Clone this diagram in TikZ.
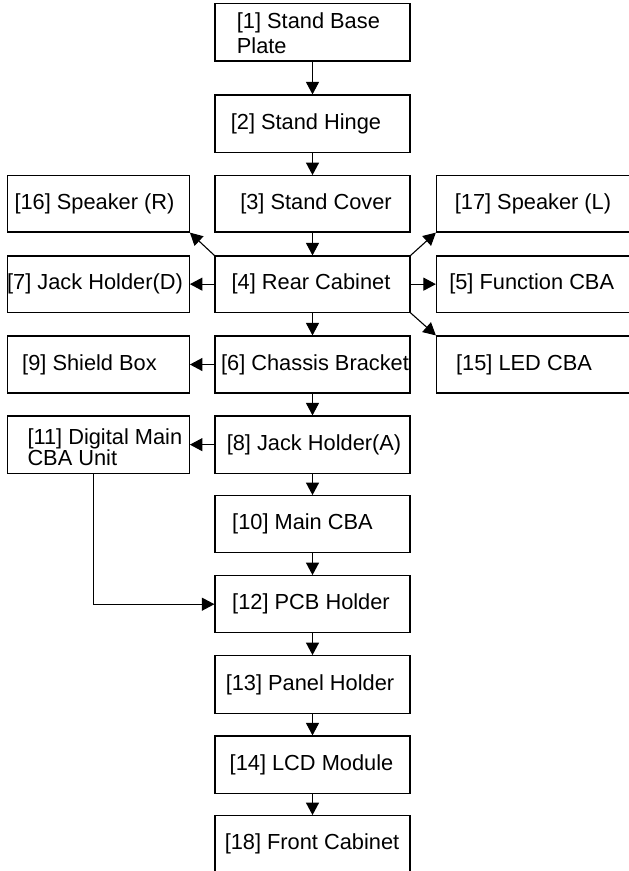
\documentclass[tikz,border=0pt]{standalone}
\usepackage{fontspec}
\setmainfont{Liberation Sans}
\usetikzlibrary{arrows.meta}
\newcommand{\bx}[7]{%
  \node[box, minimum width={(#4-#2)*1pt}, minimum height={(#5-#3)*1pt}] (#1) at ({(#2+#4)/2},{-(#3+#5)/2}) {};
  \node[lbl] (#1t) at (#6,{-(#3+#5)/2}) {#7};}
\begin{document}
\begin{tikzpicture}[x=1pt,y=1pt,
  box/.style={draw=black, line width=1.2pt, inner sep=0pt},
  lbl/.style={inner sep=0pt, font=\fontsize{21.8}{24}\selectfont},
  arr/.style={draw=black, line width=1.1pt, -{Triangle[length=12.5pt,width=13pt]}}]
\useasboundingbox (0,0) rectangle (629,-871);
\clip (0,0) rectangle (629,-871);
% centre column
\bx{b1}{215}{3.3}{410}{61}{312}{}
\node[lbl, anchor=west, align=left, font=\fontsize{21.8}{24.5}\selectfont] (b1t) at (236.7,-33.3) {[1] Stand Base\\Plate};
\bx{b2}{215}{95}{410}{152.3}{306}{[2] Stand Hinge}
\bx{b3}{215}{175.7}{410}{232}{316}{[3] Stand Cover}
\bx{b4}{215}{256}{410}{312.3}{311}{[4] Rear Cabinet}
\bx{b6}{215}{336}{410}{393}{315}{[6] Chassis Bracket}
\bx{b8}{215}{416}{410}{473.3}{314}{[8] Jack Holder(A)}
\bx{b10}{215}{495.7}{410}{552.7}{302.5}{[10] Main CBA}
\bx{b12}{215}{575.7}{410}{632.7}{311}{[12] PCB Holder}
\bx{b13}{215}{655.7}{410}{713.3}{310}{[13] Panel Holder}
\bx{b14}{215}{736}{410}{793.3}{311.5}{[14] LCD Module}
\bx{b18}{215}{815.7}{410}{873}{312}{[18] Front Cabinet}
% left column
\bx{b16}{7.3}{175.7}{189.3}{232}{94.5}{[16] Speaker (R)}
\bx{b7}{7.3}{256}{189.3}{312.3}{95}{[7] Jack Holder(D)}
\bx{b9}{7.3}{336}{189.3}{393}{89.5}{[9] Shield Box}
\bx{b11}{7.3}{416}{189.3}{473.3}{98}{}
\node[lbl, anchor=west, align=left, font=\fontsize{21.8}{20.7}\selectfont] (b11t) at (27.3,-447.5) {[11] Digital Main\\CBA Unit};
% right column
\bx{b17}{436.5}{175.7}{631}{232}{533}{[17] Speaker (L)}
\bx{b5}{436.5}{256}{631}{312.3}{531.7}{[5] Function CBA}
\bx{b15}{436.5}{336}{631}{393}{524}{[15] LED CBA}
% connectors
\draw[arr] (b1) -- (b2);
\draw[arr] (b2) -- (b3);
\draw[arr] (b3) -- (b4);
\draw[arr] (b4) -- (b6);
\draw[arr] (b6) -- (b8);
\draw[arr] (b8) -- (b10);
\draw[arr] (b10) -- (b12);
\draw[arr] (b12) -- (b13);
\draw[arr] (b13) -- (b14);
\draw[arr] (b14) -- (b18);
\draw[arr] (b4) -- (b7);
\draw[arr] (b4) -- (b5);
\draw[arr] (b6) -- (b9);
\draw[arr] (b8) -- (b11);
\draw[arr] (b4.north west) -- (b16.south east);
\draw[arr] (b4.north east) -- (b17.south west);
\draw[arr] (b4.south east) -- (b15.north west);
\draw[arr] ([xshift=-5pt]b11.south) |- (b12.west);
\end{tikzpicture}
\end{document}
